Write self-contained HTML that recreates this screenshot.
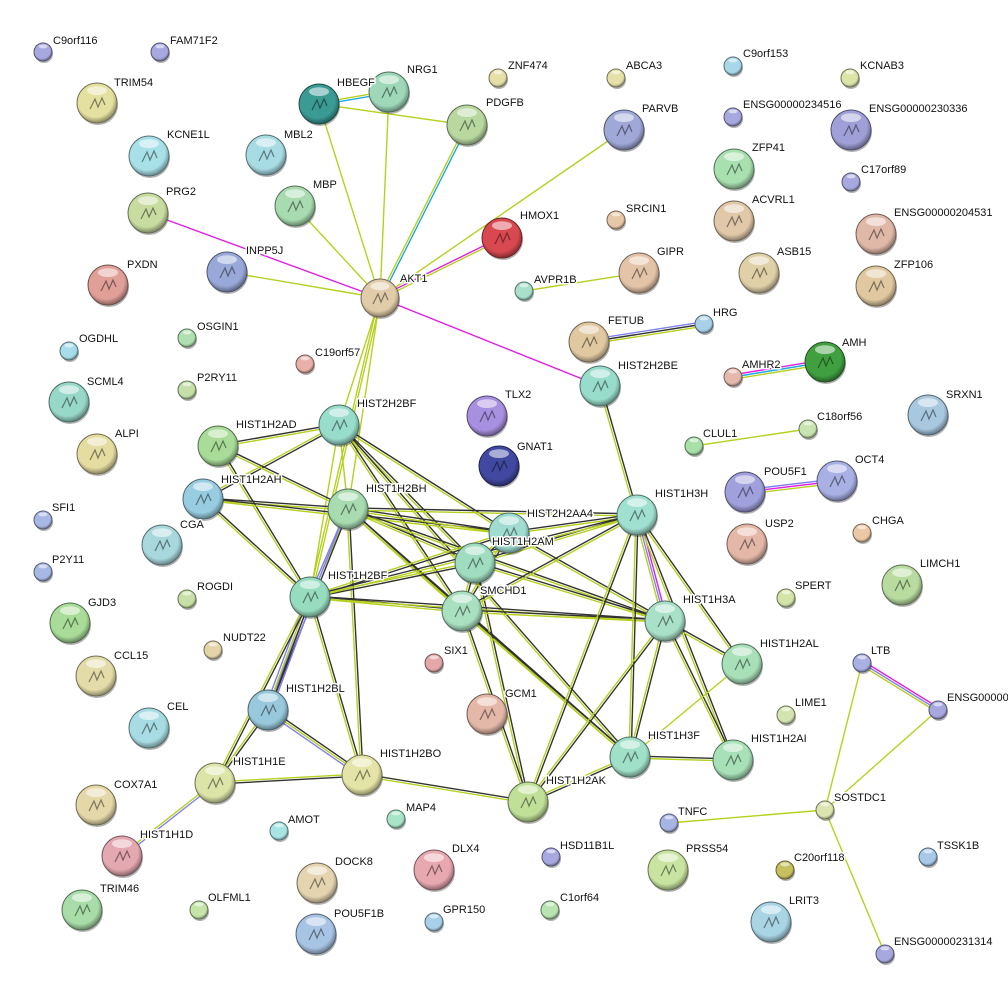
<!DOCTYPE html>
<html><head><meta charset="utf-8"><style>
html,body{margin:0;padding:0;background:#fff;}
svg{display:block}
text{font-family:"Liberation Sans",sans-serif;font-size:11px;fill:#111;paint-order:stroke;stroke:#fff;stroke-width:3px;stroke-linejoin:round}
</style></head><body>
<svg id="s" width="1008" height="1000" viewBox="0 0 1008 1000" xmlns="http://www.w3.org/2000/svg">
<defs id="d"></defs>
<g id="e"></g>
<g id="n"></g>
<g id="t">
<text x="53" y="44">C9orf116</text>
<text x="170" y="44">FAM71F2</text>
<text x="114" y="86">TRIM54</text>
<text x="337" y="86">HBEGF</text>
<text x="407" y="73">NRG1</text>
<text x="508" y="69">ZNF474</text>
<text x="626" y="69">ABCA3</text>
<text x="743" y="57">C9orf153</text>
<text x="860" y="69">KCNAB3</text>
<text x="486" y="106">PDGFB</text>
<text x="642" y="112">PARVB</text>
<text x="743" y="108">ENSG00000234516</text>
<text x="869" y="112">ENSG00000230336</text>
<text x="167" y="138">KCNE1L</text>
<text x="284" y="138">MBL2</text>
<text x="752" y="151">ZFP41</text>
<text x="861" y="173">C17orf89</text>
<text x="313" y="188">MBP</text>
<text x="166" y="195">PRG2</text>
<text x="520" y="219">HMOX1</text>
<text x="626" y="212">SRCIN1</text>
<text x="752" y="203">ACVRL1</text>
<text x="894" y="216">ENSG00000204531</text>
<text x="246" y="254">INPP5J</text>
<text x="127" y="268">PXDN</text>
<text x="400" y="282">AKT1</text>
<text x="534" y="283">AVPR1B</text>
<text x="657" y="255">GIPR</text>
<text x="777" y="255">ASB15</text>
<text x="894" y="268">ZFP106</text>
<text x="197" y="330">OSGIN1</text>
<text x="608" y="324">FETUB</text>
<text x="713" y="316">HRG</text>
<text x="842" y="346">AMH</text>
<text x="79" y="342">OGDHL</text>
<text x="315" y="356">C19orf57</text>
<text x="742" y="368">AMHR2</text>
<text x="618" y="369">HIST2H2BE</text>
<text x="197" y="381">P2RY11</text>
<text x="87" y="385">SCML4</text>
<text x="505" y="398">TLX2</text>
<text x="946" y="398">SRXN1</text>
<text x="357" y="407">HIST2H2BF</text>
<text x="236" y="428">HIST1H2AD</text>
<text x="817" y="420">C18orf56</text>
<text x="703" y="437">CLUL1</text>
<text x="115" y="437">ALPI</text>
<text x="517" y="450">GNAT1</text>
<text x="221" y="483">HIST1H2AH</text>
<text x="764" y="475">POU5F1</text>
<text x="855" y="463">OCT4</text>
<text x="366" y="492">HIST1H2BH</text>
<text x="655" y="497">HIST1H3H</text>
<text x="527" y="517">HIST2H2AA4</text>
<text x="52" y="511">SFI1</text>
<text x="180" y="528">CGA</text>
<text x="492" y="545">HIST1H2AM</text>
<text x="765" y="527">USP2</text>
<text x="872" y="524">CHGA</text>
<text x="52" y="563">P2Y11</text>
<text x="88" y="606">GJD3</text>
<text x="197" y="590">ROGDI</text>
<text x="328" y="579">HIST1H2BF</text>
<text x="480" y="594">SMCHD1</text>
<text x="920" y="567">LIMCH1</text>
<text x="795" y="589">SPERT</text>
<text x="683" y="603">HIST1H3A</text>
<text x="223" y="641">NUDT22</text>
<text x="444" y="654">SIX1</text>
<text x="760" y="647">HIST1H2AL</text>
<text x="114" y="659">CCL15</text>
<text x="871" y="654">LTB</text>
<text x="286" y="692">HIST1H2BL</text>
<text x="505" y="697">GCM1</text>
<text x="795" y="706">LIME1</text>
<text x="947" y="701">ENSG00000</text>
<text x="167" y="710">CEL</text>
<text x="648" y="739">HIST1H3F</text>
<text x="751" y="742">HIST1H2AI</text>
<text x="233" y="765">HIST1H1E</text>
<text x="380" y="757">HIST1H2BO</text>
<text x="114" y="788">COX7A1</text>
<text x="834" y="801">SOSTDC1</text>
<text x="546" y="784">HIST1H2AK</text>
<text x="288" y="823">AMOT</text>
<text x="406" y="811">MAP4</text>
<text x="678" y="815">TNFC</text>
<text x="140" y="838">HIST1H1D</text>
<text x="560" y="849">HSD11B1L</text>
<text x="686" y="852">PRSS54</text>
<text x="937" y="849">TSSK1B</text>
<text x="335" y="865">DOCK8</text>
<text x="452" y="852">DLX4</text>
<text x="794" y="861">C20orf118</text>
<text x="100" y="892">TRIM46</text>
<text x="208" y="901">OLFML1</text>
<text x="560" y="901">C1orf64</text>
<text x="443" y="913">GPR150</text>
<text x="334" y="917">POU5F1B</text>
<text x="789" y="904">LRIT3</text>
<text x="894" y="945">ENSG00000231314</text>
</g>
</svg>
<script>
var N={
C9orf116:[43,52,9,'#a8a8e0'],FAM71F2:[160,52,9,'#a8a8e0'],TRIM54:[97,103,20,'#e4e0a0'],
HBEGF:[319,104,20,'#3a9a94'],NRG1:[389,92,20,'#9ed8b8'],ZNF474:[498,78,9,'#e4e0a8'],ABCA3:[616,78,9,'#e4e0a8'],
C9orf153:[733,66,9,'#a8d8e8'],KCNAB3:[850,78,9,'#dce4a8'],PDGFB:[467,125,20,'#b8d8a0'],PARVB:[624,130,20,'#a0a8d8'],
E234516:[733,117,9,'#a8a8e0'],E230336:[851,130,20,'#a0a0d8'],KCNE1L:[149,156,20,'#a8e0e8'],MBL2:[266,155,20,'#a8dce4'],
ZFP41:[734,169,20,'#a8e0b0'],C17orf89:[851,182,9,'#a8a8e0'],MBP:[295,206,20,'#a8dcb0'],PRG2:[148,213,20,'#c8dca0'],
HMOX1:[502,238,20,'#d84850'],SRCIN1:[616,220,9,'#e8c8a8'],ACVRL1:[734,221,20,'#e0c8a8'],E204531:[876,234,20,'#e0b8a8'],
INPP5J:[227,272,20,'#98a8d8'],PXDN:[108,285,20,'#e0a098'],AKT1:[380,298,19,'#e0cca8'],AVPR1B:[524,291,9,'#a8e0cc'],
GIPR:[639,273,20,'#e4c4a8'],ASB15:[759,273,20,'#e0d0a8'],ZFP106:[876,286,20,'#e0c8a0'],OSGIN1:[187,338,9,'#b0e0b0'],
FETUB:[589,342,20,'#e0c8a0'],HRG:[704,324,9,'#a8d0e8'],AMH:[825,362,20,'#40a040'],OGDHL:[69,351,9,'#a8dce8'],
C19orf57:[305,364,9,'#e8b0a8'],AMHR2:[733,377,9,'#e4b8ac'],BE:[600,386,20,'#98dccc'],P2RY11:[187,390,9,'#c4e0a8'],
SCML4:[69,402,20,'#98d8c8'],TLX2:[487,416,20,'#a890e0'],SRXN1:[928,415,20,'#a8c8e0'],BF2:[339,425,20,'#98dccc'],
AD:[218,446,20,'#a8dc98'],C18orf56:[808,429,9,'#c8e4b0'],CLUL1:[694,446,9,'#a8e0a8'],ALPI:[97,454,20,'#e4dca0'],
GNAT1:[499,466,20,'#4048a0'],AH:[203,499,20,'#98cce0'],POU5F1:[745,492,20,'#a0a0dc'],OCT4:[837,481,20,'#a8b0e4'],
BH:[348,509,20,'#a8dcb0'],H3H:[637,515,20,'#a0e0d0'],AA4:[509,533,20,'#a0dcd0'],SFI1:[43,520,9,'#a8b8e4'],
CGA:[162,545,20,'#a8d8dc'],AM:[475,563,20,'#a0dcc0'],USP2:[747,544,20,'#e4b8a8'],CHGA:[862,533,9,'#ecc8a4'],
P2Y11:[43,572,9,'#a8b8e4'],GJD3:[70,623,20,'#a8dc98'],ROGDI:[187,599,9,'#c8e0a8'],BF1:[310,597,20,'#98dcc0'],
SM:[462,611,20,'#a8e0c0'],LIMCH1:[902,585,20,'#b8dca0'],SPERT:[786,598,9,'#d4e4a8'],H3A:[665,621,20,'#a8e0c8'],
NUDT22:[213,650,9,'#e4d4a8'],SIX1:[434,663,9,'#e4a8a8'],AL:[742,664,20,'#a8e0b8'],CCL15:[96,676,20,'#e4dca8'],
LTB:[862,663,9,'#a8b0e4'],BL:[268,710,20,'#98c8dc'],GCM1:[487,714,20,'#e4b8a8'],LIME1:[786,715,9,'#d4e4b0'],
ENSGX:[938,710,9,'#a8a8e0'],CEL:[149,728,20,'#a8dce4'],H3F:[630,757,20,'#a0e0c8'],AI:[733,760,20,'#a8e0b8'],
H1E:[215,783,20,'#dce4a8'],BO:[362,775,20,'#e4e4a8'],COX7A1:[96,805,20,'#e4d8a8'],SOSTDC1:[825,810,9,'#dce4b0'],
AK:[528,802,20,'#c0e098'],AMOT:[279,831,9,'#a8e4e4'],MAP4:[396,819,9,'#a8e4c8'],TNFC:[669,823,9,'#a8b4e4'],
H1D:[122,856,20,'#e4a8b0'],HSD11B1L:[551,857,9,'#a8a8e0'],PRSS54:[668,870,20,'#c8e4a0'],TSSK1B:[928,857,9,'#a8c8e8'],
DOCK8:[317,883,20,'#e4d4b0'],DLX4:[434,870,20,'#e8a8b0'],C20orf118:[785,870,9,'#c8c060'],TRIM46:[82,910,20,'#a8dca8'],
OLFML1:[199,910,9,'#c4e4a8'],C1orf64:[550,910,9,'#b8e4b0'],GPR150:[434,922,9,'#a8d0e8'],POU5F1B:[316,934,20,'#a8c4e4'],
LRIT3:[771,922,20,'#a8d4e4'],E231314:[885,954,9,'#a8a8e0']};
var C={y:'#b8d020',k:'#333',m:'#e020e0',c:'#20a8e0',b:'#8080f0',g:'#555'};
var E=[
['AKT1','HBEGF','y'],['AKT1','NRG1','y'],['AKT1','PDGFB','yc'],['AKT1','PARVB','y'],['AKT1','HMOX1','my'],['AKT1','MBP','y'],
['AKT1','INPP5J','y'],['AKT1','PRG2','m'],['AKT1','BE','m'],['AKT1','BF2','y'],['AKT1','BH','y'],['AKT1','BF1','yy'],
['HBEGF','NRG1','yc'],['HBEGF','PDGFB','y'],['AVPR1B','GIPR','y'],['FETUB','HRG','bky'],
['AMHR2','AMH','mcy'],['CLUL1','C18orf56','y'],['POU5F1','OCT4','bmy'],['BE','H3H','ky'],
['LTB','ENSGX','mby'],['LTB','SOSTDC1','y'],['ENSGX','SOSTDC1','y'],['SOSTDC1','TNFC','y'],['SOSTDC1','E231314','y'],
['H1E','H1D','by'],
['BF2','AD','yk'],['BF2','AH','ky'],['BF2','BF1','y'],['BF2','BH','y'],['BF2','AA4','ky'],['BF2','AM','ky'],['BF2','SM','ky'],['BF2','H3F','ky'],
['AD','BH','ky'],['AD','BF1','ky'],['AH','BH','ky'],['AH','BF1','ky'],['AH','AA4','ky'],
['BH','AA4','ky'],['BH','AM','ky'],['BH','SM','ky'],['BH','H3H','ky'],['BH','BF1','yb'],['BH','BL','kb'],['BH','BO','ky'],['BH','H3A','ky'],['BH','H3F','ky'],
['AA4','AM','ky'],['AA4','H3H','ky'],['AA4','BF1','ky'],['AA4','H3A','ky'],['AA4','SM','ky'],
['AM','BF1','ky'],['AM','H3H','ky'],['AM','H3A','ky'],['AM','SM','ky'],['AM','AK','ky'],
['BF1','SM','ky'],['BF1','H3A','ky'],['BF1','BL','bkyb'],['BF1','BO','ky'],['BF1','H1E','ky'],['BF1','H3H','ky'],
['SM','H3A','ky'],['SM','H3F','ky'],['SM','H3H','ky'],['SM','AK','ky'],
['H3H','H3A','mby'],['H3H','AL','ky'],['H3H','AI','ky'],['H3H','H3F','ky'],['H3H','AK','ky'],
['H3A','AL','ky'],['H3A','AI','ky'],['H3A','H3F','ky'],['H3A','AK','ky'],['AL','H3F','y'],['H3F','AI','ky'],['H3F','AK','ky'],
['BL','BO','kyb'],['BL','H1E','ky'],['BO','H1E','ky'],['BO','AK','ky']];
var ns='http://www.w3.org/2000/svg',eg=document.getElementById('e'),ng=document.getElementById('n'),d=document.getElementById('d');
function el(t,a,p){var x=document.createElementNS(ns,t);for(var k in a)x.setAttribute(k,a[k]);p.appendChild(x);return x;}
E.forEach(function(e){var a=N[e[0]],b=N[e[1]],dx=b[0]-a[0],dy=b[1]-a[1],L=Math.hypot(dx,dy),px=-dy/L,py=dx/L,n=e[2].length;
for(var i=0;i<n;i++){var o=(i-(n-1)/2)*2.2;el('line',{x1:a[0]+px*o,y1:a[1]+py*o,x2:b[0]+px*o,y2:b[1]+py*o,stroke:C[e[2][i]],'stroke-width':1.4},eg);}});
function dk(h,f){var r=parseInt(h.substr(1,2),16),g=parseInt(h.substr(3,2),16),b=parseInt(h.substr(5,2),16);return 'rgb('+Math.round(r*f)+','+Math.round(g*f)+','+Math.round(b*f)+')';}
var i=0;for(var k in N){var v=N[k],id='g'+(i++);
var gr=el('radialGradient',{id:id,cx:'0.45',cy:'0.4',r:'0.6'},d);
el('stop',{offset:'0','stop-color':dk(v[3],1.0)},gr);el('stop',{offset:'0.75','stop-color':v[3]},gr);el('stop',{offset:'1','stop-color':dk(v[3],0.6)},gr);
el('ellipse',{cx:v[0]+1,cy:v[1]+2,rx:v[2],ry:v[2],fill:'rgba(0,0,0,0.3)'},ng);
el('circle',{cx:v[0],cy:v[1],r:v[2],fill:'url(#'+id+')',stroke:dk(v[3],0.5),'stroke-width':1},ng);
el('ellipse',{cx:v[0],cy:v[1]-v[2]*0.62,rx:v[2]*0.5,ry:v[2]*0.22,fill:'rgba(255,255,255,0.55)'},ng);
if(v[2]>15){el('path',{d:'M'+(v[0]-7)+' '+(v[1]+6)+' l5 -10 l3 8 l4 -9 l3 7',fill:'none',stroke:dk(v[3],0.55),'stroke-width':1.2},ng);}}
</script>
</body></html>
